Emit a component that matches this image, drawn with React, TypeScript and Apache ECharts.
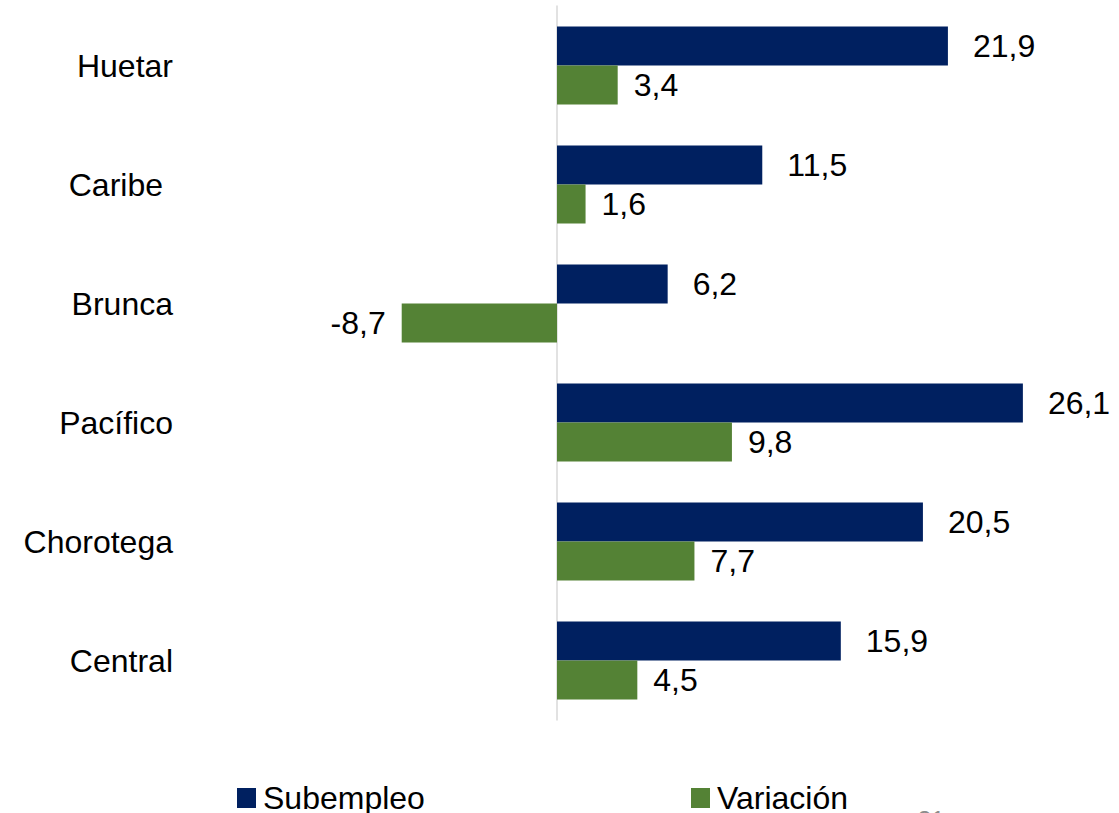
import React, { useEffect, useRef } from "react";
import * as echarts from "echarts";

const categories = ["Central", "Chorotega", "Pacífico", "Brunca", "Caribe", "Huetar"];
const subempleo = [15.9, 20.5, 26.1, 6.2, 11.5, 21.9];
const variacion = [4.5, 7.7, 9.8, -8.7, 1.6, 3.4];
const seriesNames = ["Subempleo", "Variación"];
const pageNumber = "31";

const FONT = "'Liberation Sans', Arial, Helvetica, sans-serif";
const fmt = (v: number) => v.toFixed(1).replace(".", ",");

export default function App() {
  const ref = useRef<HTMLDivElement>(null);
  useEffect(() => {
    if (!ref.current) return;
    const chart = echarts.init(ref.current, null, { renderer: "svg" });
    chart.setOption({
      animation: false,
      backgroundColor: "#ffffff",
      textStyle: { fontFamily: FONT },
      grid: {
        left: 378.5,
        right: 26.5,
        top: 6,
        bottom: 93,
        containLabel: false,
        outerBoundsMode: "none",
      },
      xAxis: {
        type: "value",
        min: -10,
        max: 30,
        show: false,
        splitLine: { show: false },
      },
      yAxis: {
        type: "category",
        data: categories.map((c) =>
          c === "Caribe" ? { value: c, textStyle: { padding: [0, 10, 0, 0] } } : c
        ),
        axisLine: { show: true, onZero: true, lineStyle: { color: "#d9d9d9", width: 1.5 } },
        axisTick: { show: false },
        axisLabel: { margin: 205.5, fontSize: 32, color: "#000000", fontFamily: FONT },
      },
      legend: [
        {
          data: [seriesNames[0]],
          left: 237,
          top: 782,
          padding: 0,
          itemWidth: 19,
          itemHeight: 20,
          itemGap: 7,
          icon: "rect",
          textStyle: { fontSize: 32, color: "#000000", fontFamily: FONT, padding: [0, 0, 0, 2] },
        },
        {
          data: [seriesNames[1]],
          left: 691,
          top: 782,
          padding: 0,
          itemWidth: 19,
          itemHeight: 20,
          itemGap: 7,
          icon: "rect",
          textStyle: { fontSize: 32, color: "#000000", fontFamily: FONT, padding: [0, 0, 0, 2] },
        },
      ],
      graphic: [
        {
          type: "text",
          left: 918,
          top: 807,
          style: { text: pageNumber, fontSize: 24, fill: "#8c8c8c", fontFamily: FONT },
        },
      ],
      series: [
        {
          name: seriesNames[0],
          type: "bar",
          data: subempleo,
          barWidth: 39,
          barGap: "0%",
          itemStyle: { color: "#002060" },
          label: {
            show: true,
            position: "right",
            distance: 25,
            fontSize: 32,
            color: "#000000",
            fontFamily: FONT,
            formatter: (p: any) => fmt(p.value),
          },
        },
        {
          name: seriesNames[1],
          type: "bar",
          data: variacion.map((v) =>
            v < 0 ? { value: v, label: { position: "left" } } : v
          ),
          barWidth: 39,
          barGap: "0%",
          itemStyle: { color: "#548235" },
          label: {
            show: true,
            position: "right",
            distance: 16,
            fontSize: 32,
            color: "#000000",
            fontFamily: FONT,
            formatter: (p: any) => fmt(p.value),
          },
        },
      ],
    });
    return () => chart.dispose();
  }, []);
  return (
    <div
      ref={ref}
      style={{ position: "fixed", left: 0, top: 0, width: 1119, height: 813 }}
    />
  );
}
